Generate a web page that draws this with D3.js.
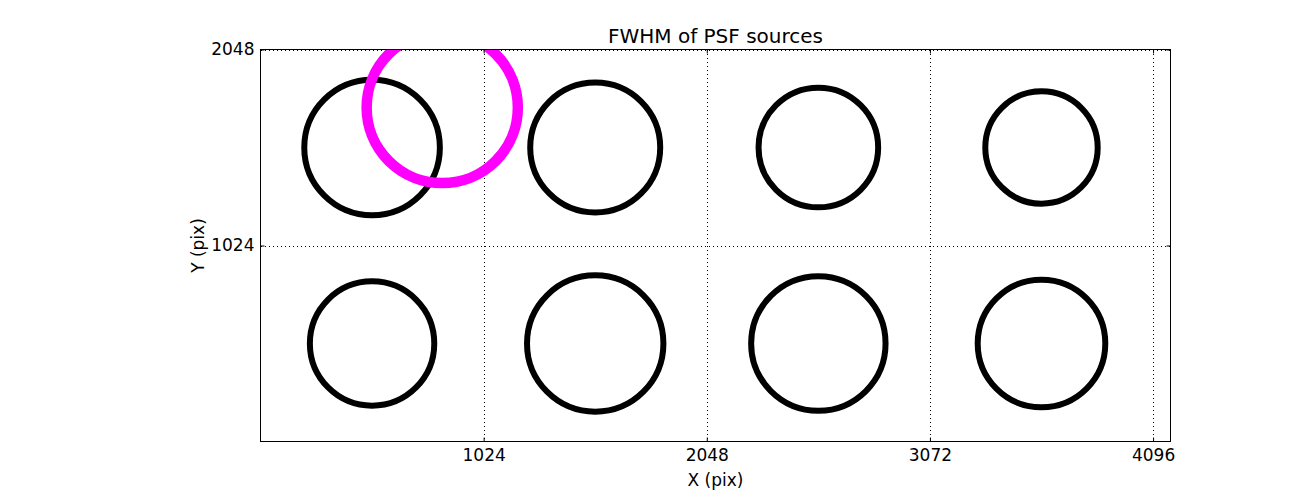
<!DOCTYPE html>
<html>
<head>
<meta charset="utf-8">
<script src="https://cdn.jsdelivr.net/npm/d3@7"></script>
<style>
  body { margin: 0; background: #fff; }
  svg { display: block; }
  text { font-family: "DejaVu Sans", sans-serif; fill: #000; }
</style>
</head>
<body>
<svg id="chart" width="1300" height="490"></svg>
<script>
// ---- data ----
const xTicks = [1024, 2048, 3072, 4096];
const yTicks = [1024, 2048];
const xDomain = [0, 4176];
const yDomain = [0, 2048];
// PSF source positions (detector pixels) and FWHM (pixels)
const srcX = [512, 1536, 2560, 3584, 512, 1536, 2560, 3584];
const srcY = [1536, 1536, 1536, 1536, 512, 512, 512, 512];
const srcFwhm = [3.39, 3.25, 2.99, 2.81, 3.11, 3.41, 3.36, 3.19];
// reference source (magenta)
const refX = [834];
const refY = [1745];
const refFwhm = [3.78];

// ---- layout ----
const svg = d3.select("#chart");
const L = 260.5, R = 1170.5, T = 49.5, B = 441.5;

const x = d3.scaleLinear().domain(xDomain).range([L, R]);
const y = d3.scaleLinear().domain(yDomain).range([B, T]);
const r = d3.scaleLinear().domain([0, 1]).range([0, 20]);

svg.append("defs").append("clipPath").attr("id", "plotClip")
  .append("rect").attr("x", L).attr("y", T).attr("width", R - L).attr("height", B - T);

// grid
const grid = svg.append("g").attr("stroke", "#000").attr("stroke-width", 1)
  .attr("stroke-dasharray", "1,3").attr("shape-rendering", "crispEdges");
grid.selectAll("line.vx").data(xTicks).join("line")
  .attr("x1", d => Math.round(x(d)) + 0.5).attr("x2", d => Math.round(x(d)) + 0.5)
  .attr("y1", T).attr("y2", B);
grid.selectAll("line.hy").data(yTicks).join("line")
  .attr("y1", d => Math.round(y(d)) + 0.5).attr("y2", d => Math.round(y(d)) + 0.5)
  .attr("x1", L).attr("x2", R);

// circles
const marks = svg.append("g").attr("clip-path", "url(#plotClip)");
marks.selectAll("circle.src").data(d3.range(srcX.length)).join("circle")
  .attr("class", "src")
  .attr("cx", i => x(srcX[i])).attr("cy", i => y(srcY[i]))
  .attr("r", i => r(srcFwhm[i]))
  .attr("fill", "none").attr("stroke", "#000").attr("stroke-width", 6);
marks.selectAll("circle.ref").data(d3.range(refX.length)).join("circle")
  .attr("class", "ref")
  .attr("cx", i => x(refX[i])).attr("cy", i => y(refY[i]))
  .attr("r", i => r(refFwhm[i]))
  .attr("fill", "none").attr("stroke", "#ff00ff").attr("stroke-width", 10.5);

// axes (ticks inward, on all sides)
const tickLen = 4;
const fmt = d3.format("d");
function styleAxis(g) {
  g.select(".domain").remove();
  g.selectAll(".tick line").attr("stroke", "#000").attr("stroke-width", 1);
}
svg.append("g").attr("transform", `translate(0,${B})`)
  .call(d3.axisBottom(x).tickValues(xTicks).tickFormat(fmt).tickSizeInner(-tickLen).tickSizeOuter(0).tickPadding(7))
  .call(styleAxis)
  .call(g => g.selectAll(".tick text").attr("font-size", 17).attr("font-family", "DejaVu Sans"));
svg.append("g").attr("transform", `translate(0,${T})`)
  .call(d3.axisTop(x).tickValues(xTicks).tickSizeInner(-tickLen).tickSizeOuter(0).tickFormat(""))
  .call(styleAxis);
svg.append("g").attr("transform", `translate(${L},0)`)
  .call(d3.axisLeft(y).tickValues(yTicks).tickFormat(fmt).tickSizeInner(-tickLen).tickSizeOuter(0).tickPadding(6))
  .call(styleAxis)
  .call(g => g.selectAll(".tick text").attr("font-size", 17).attr("font-family", "DejaVu Sans"));
svg.append("g").attr("transform", `translate(${R},0)`)
  .call(d3.axisRight(y).tickValues(yTicks).tickSizeInner(-tickLen).tickSizeOuter(0).tickFormat(""))
  .call(styleAxis);

// frame
svg.append("rect").attr("x", L).attr("y", T).attr("width", R - L).attr("height", B - T)
  .attr("fill", "none").attr("stroke", "#000").attr("stroke-width", 1);

// labels
svg.append("text").attr("x", (L + R) / 2).attr("y", 43).attr("text-anchor", "middle")
  .attr("font-size", 20).text("FWHM of PSF sources");
svg.append("text").attr("x", (L + R) / 2).attr("y", 486).attr("text-anchor", "middle")
  .attr("font-size", 17).text("X (pix)");
svg.append("text").attr("transform", `translate(204,${(T + B) / 2}) rotate(-90)`)
  .attr("text-anchor", "middle").attr("font-size", 17).text("Y (pix)");
</script>
</body>
</html>
